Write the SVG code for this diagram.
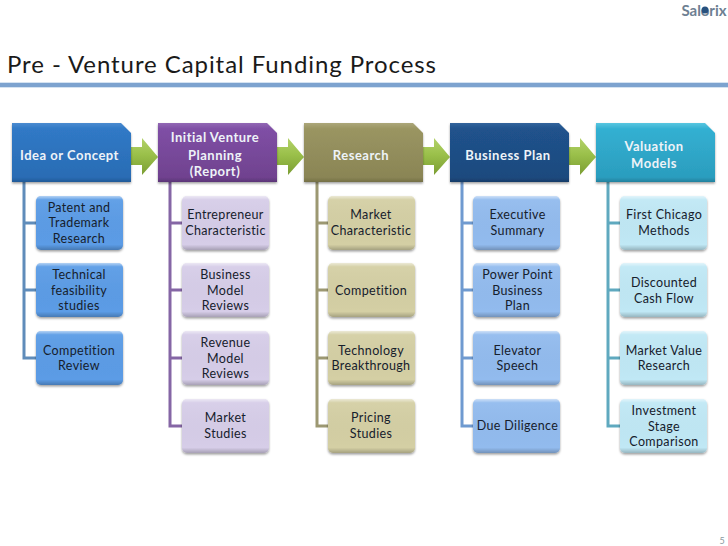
<svg xmlns="http://www.w3.org/2000/svg" width="728" height="546" viewBox="0 0 728 546">
<style>
text{font-family:Lato,"Open Sans","Liberation Sans",sans-serif;text-anchor:middle}
.h{font-size:13px;font-weight:700;fill:#eef3f8;letter-spacing:.5px}
.c{font-size:12.5px;fill:#16202c;letter-spacing:.35px}
.tk{fill:none;stroke-width:3}
.s{filter:url(#sh)}
</style>
<defs>
<filter id="sh" x="-10%" y="-10%" width="120%" height="125%"><feDropShadow dx="0" dy="1.5" stdDeviation="1.1" flood-color="#000" flood-opacity=".38"/></filter>
<linearGradient id="g1" x1="0" y1="0" x2="0" y2="1"><stop offset="0" stop-color="#4a8bd0"/><stop offset=".1" stop-color="#3079c6"/><stop offset=".92" stop-color="#2a6cb4"/><stop offset="1" stop-color="#215a98"/></linearGradient>
<linearGradient id="g2" x1="0" y1="0" x2="0" y2="1"><stop offset="0" stop-color="#9268b4"/><stop offset=".1" stop-color="#7f4fa5"/><stop offset=".92" stop-color="#70428f"/><stop offset="1" stop-color="#5b3577"/></linearGradient>
<linearGradient id="g3" x1="0" y1="0" x2="0" y2="1"><stop offset="0" stop-color="#aca77a"/><stop offset=".1" stop-color="#9a9562"/><stop offset=".92" stop-color="#8a8555"/><stop offset="1" stop-color="#747046"/></linearGradient>
<linearGradient id="g4" x1="0" y1="0" x2="0" y2="1"><stop offset="0" stop-color="#33649c"/><stop offset=".1" stop-color="#20528c"/><stop offset=".92" stop-color="#1d4a7e"/><stop offset="1" stop-color="#173c68"/></linearGradient>
<linearGradient id="g5" x1="0" y1="0" x2="0" y2="1"><stop offset="0" stop-color="#58c6e0"/><stop offset=".1" stop-color="#33b0d2"/><stop offset=".92" stop-color="#2b9dbe"/><stop offset="1" stop-color="#23819e"/></linearGradient>
<linearGradient id="ga" x1="0" y1="0" x2="0" y2="1"><stop offset="0" stop-color="#b3d26a"/><stop offset=".45" stop-color="#9ac04a"/><stop offset="1" stop-color="#7b9d33"/></linearGradient>
<linearGradient id="bev" x1="0" y1="0" x2="0" y2="1"><stop offset="0" stop-color="#fff" stop-opacity=".55"/><stop offset=".07" stop-color="#fff" stop-opacity=".05"/><stop offset=".9" stop-color="#000" stop-opacity="0"/><stop offset="1" stop-color="#000" stop-opacity=".22"/></linearGradient>
<path id="hd" d="M0 0H109L119 10V59H0Z"/>
<path id="ar" d="M0 9H11V0L27 19L11 37V27H0Z" fill="url(#ga)"/>
<g id="cb"><rect width="87" height="54" rx="5"/><rect width="87" height="54" rx="5" fill="url(#bev)"/></g>
</defs>

<rect width="728" height="546" fill="#fff"/>
<text x="7" y="73" style="text-anchor:start;font-size:24px;fill:#1a1a1a" textLength="429" lengthAdjust="spacing">Pre - Venture Capital Funding Process</text>
<g id="rule"><rect x="0" y="82" width="728" height="6" fill="#d5e3f1"/><rect x="0" y="83" width="728" height="4" fill="#7da3cf"/></g>

<g id="logo">
<text x="704" y="16" style="font-size:15px;font-weight:700;fill:#6d8092" textLength="45">Salorix</text>
<circle cx="705" cy="10" r="3.5" fill="#27517f"/>
</g>
<text x="722" y="543.500" style="font-size:9px;fill:#8a9a9e">5</text>

<g id="connectors">
<path class="tk" stroke="#5f8cba" d="M24 182V358H36M24 223H36M24 290H36"/>
<path class="tk" stroke="#8566a5" d="M170 182V426H182M170 223H182M170 290H182M170 358H182"/>
<path class="tk" stroke="#9c9872" d="M317 182V426H328M317 223H328M317 290H328M317 358H328"/>
<path class="tk" stroke="#6f9ad0" d="M462 182V426H473M462 223H473M462 290H473M462 358H473"/>
<path class="tk" stroke="#5fa9bf" d="M608 182V426H620M608 223H620M608 290H620M608 358H620"/>
<use href="#ar" x="131" y="138"/>
<use href="#ar" x="277" y="138"/>
<use href="#ar" x="423" y="138"/>
<use href="#ar" x="569" y="138"/>
</g>

<g id="h1"><use href="#hd" x="12" y="123" fill="url(#g1)" class="s"/><text class="h" x="69.500" y="160">Idea or Concept</text></g>
<g id="h2"><use href="#hd" x="158" y="123" fill="url(#g2)" class="s"/><text class="h"><tspan x="215" y="142">Initial Venture</tspan><tspan x="215" y="160">Planning</tspan><tspan x="215" y="176">(Report)</tspan></text></g>
<g id="h3"><use href="#hd" x="304" y="123" fill="url(#g3)" class="s"/><text class="h" x="361" y="160">Research</text></g>
<g id="h4"><use href="#hd" x="450" y="123" fill="url(#g4)" class="s"/><text class="h" x="508" y="160">Business Plan</text></g>
<g id="h5"><use href="#hd" x="596" y="123" fill="url(#g5)" class="s"/><text class="h"><tspan x="654" y="151">Valuation</tspan><tspan x="654" y="168">Models</tspan></text></g>

<g id="c1a"><use href="#cb" x="36" y="196" fill="#5b9ce6" class="s"/><text class="c"><tspan x="79" y="212">Patent and</tspan><tspan x="79" y="227">Trademark</tspan><tspan x="79" y="243">Research</tspan></text></g>
<g id="c1b"><use href="#cb" x="36" y="263" fill="#5b9ce6" class="s"/><text class="c"><tspan x="79" y="279">Technical</tspan><tspan x="79" y="295">feasibility</tspan><tspan x="79" y="310">studies</tspan></text></g>
<g id="c1c"><use href="#cb" x="36" y="331" fill="#5b9ce6" class="s"/><text class="c"><tspan x="79" y="355">Competition</tspan><tspan x="79" y="370">Review</tspan></text></g>

<g id="c2a"><use href="#cb" x="182" y="196" fill="#d6cde8" class="s"/><text class="c"><tspan x="225.500" y="219">Entrepreneur</tspan><tspan x="225.500" y="235">Characteristic</tspan></text></g>
<g id="c2b"><use href="#cb" x="182" y="263" fill="#d6cde8" class="s"/><text class="c"><tspan x="225.500" y="279">Business</tspan><tspan x="225.500" y="295">Model</tspan><tspan x="225.500" y="310">Reviews</tspan></text></g>
<g id="c2c"><use href="#cb" x="182" y="331" fill="#d6cde8" class="s"/><text class="c"><tspan x="225.500" y="347">Revenue</tspan><tspan x="225.500" y="363">Model</tspan><tspan x="225.500" y="378">Reviews</tspan></text></g>
<g id="c2d"><use href="#cb" x="182" y="399" fill="#d6cde8" class="s"/><text class="c"><tspan x="225.500" y="422">Market</tspan><tspan x="225.500" y="438">Studies</tspan></text></g>

<g id="c3a"><use href="#cb" x="328" y="196" fill="#d4cfa4" class="s"/><text class="c"><tspan x="371" y="219">Market</tspan><tspan x="371" y="235">Characteristic</tspan></text></g>
<g id="c3b"><use href="#cb" x="328" y="263" fill="#d4cfa4" class="s"/><text class="c" x="371" y="295">Competition</text></g>
<g id="c3c"><use href="#cb" x="328" y="331" fill="#d4cfa4" class="s"/><text class="c"><tspan x="371" y="355">Technology</tspan><tspan x="371" y="370">Breakthrough</tspan></text></g>
<g id="c3d"><use href="#cb" x="328" y="399" fill="#d4cfa4" class="s"/><text class="c"><tspan x="371" y="422">Pricing</tspan><tspan x="371" y="438">Studies</tspan></text></g>

<g id="c4a"><use href="#cb" x="473" y="196" fill="#92bbee" class="s"/><text class="c"><tspan x="517.500" y="219">Executive</tspan><tspan x="517.500" y="235">Summary</tspan></text></g>
<g id="c4b"><use href="#cb" x="473" y="263" fill="#92bbee" class="s"/><text class="c"><tspan x="517.500" y="279">Power Point</tspan><tspan x="517.500" y="295">Business</tspan><tspan x="517.500" y="310">Plan</tspan></text></g>
<g id="c4c"><use href="#cb" x="473" y="331" fill="#92bbee" class="s"/><text class="c"><tspan x="517.500" y="355">Elevator</tspan><tspan x="517.500" y="370">Speech</tspan></text></g>
<g id="c4d"><use href="#cb" x="473" y="399" fill="#92bbee" class="s"/><text class="c" x="517.500" y="430">Due Diligence</text></g>

<g id="c5a"><use href="#cb" x="620" y="196" fill="#c0e8f5" class="s"/><text class="c"><tspan x="664" y="219">First Chicago</tspan><tspan x="664" y="235">Methods</tspan></text></g>
<g id="c5b"><use href="#cb" x="620" y="263" fill="#c0e8f5" class="s"/><text class="c"><tspan x="664" y="287">Discounted</tspan><tspan x="664" y="303">Cash Flow</tspan></text></g>
<g id="c5c"><use href="#cb" x="620" y="331" fill="#c0e8f5" class="s"/><text class="c"><tspan x="664" y="355">Market Value</tspan><tspan x="664" y="370">Research</tspan></text></g>
<g id="c5d"><use href="#cb" x="620" y="399" fill="#c0e8f5" class="s"/><text class="c"><tspan x="664" y="415">Investment</tspan><tspan x="664" y="431">Stage</tspan><tspan x="664" y="446">Comparison</tspan></text></g>
</svg>
